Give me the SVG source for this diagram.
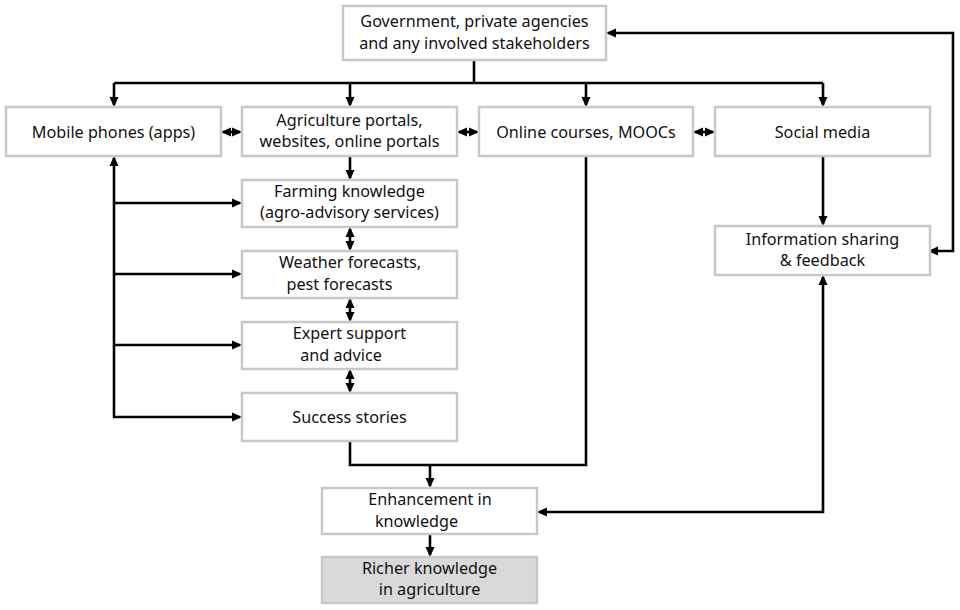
<svg xmlns="http://www.w3.org/2000/svg" width="960" height="610" viewBox="0 0 960 610">
<style>
.box{fill:#fff;stroke:#c8c8c8;stroke-width:2.5}
.grey{fill:#d9d9d9}
text{font-family:"Noto Sans","Open Sans","DejaVu Sans",sans-serif;font-size:16.2px;fill:#111;text-anchor:middle}
.c{fill:none;stroke:#000;stroke-width:2.6}
</style>
<defs>
<marker id="a" markerUnits="userSpaceOnUse" markerWidth="11" markerHeight="11" refX="8" refY="5.5" orient="auto-start-reverse"><path d="M0,1 L10,5.5 L0,10 Z" fill="#000"/></marker>
</defs>
<rect width="960" height="610" fill="#fff"/>
<g id="connectors">
<path class="c" d="M474,60 V83 M114,83 H823"/>
<path class="c" d="M114,83 V105" marker-end="url(#a)"/>
<path class="c" d="M350,83 V105" marker-end="url(#a)"/>
<path class="c" d="M586,83 V105" marker-end="url(#a)"/>
<path class="c" d="M823,83 V105" marker-end="url(#a)"/>
<path class="c" d="M930,251 H953 V33 H608" marker-start="url(#a)" marker-end="url(#a)"/>
<path class="c" d="M223,132 H240" marker-start="url(#a)" marker-end="url(#a)"/>
<path class="c" d="M459,132 H477" marker-start="url(#a)" marker-end="url(#a)"/>
<path class="c" d="M695,132 H713" marker-start="url(#a)" marker-end="url(#a)"/>
<path class="c" d="M350,157 V178" marker-end="url(#a)"/>
<path class="c" d="M350,229 V249" marker-start="url(#a)" marker-end="url(#a)"/>
<path class="c" d="M350,300 V320" marker-start="url(#a)" marker-end="url(#a)"/>
<path class="c" d="M350,371 V391" marker-start="url(#a)" marker-end="url(#a)"/>
<path class="c" d="M114,417 V158" marker-end="url(#a)"/>
<path class="c" d="M114,203 H240" marker-end="url(#a)"/>
<path class="c" d="M114,274 H240" marker-end="url(#a)"/>
<path class="c" d="M114,345 H240" marker-end="url(#a)"/>
<path class="c" d="M113,417 H240" marker-end="url(#a)"/>
<path class="c" d="M823,157 V224" marker-end="url(#a)"/>
<path class="c" d="M350,442 V465 H586 V157"/>
<path class="c" d="M430,465 V486" marker-end="url(#a)"/>
<path class="c" d="M430,535 V555" marker-end="url(#a)"/>
<path class="c" d="M823,277 V512 H539" marker-start="url(#a)" marker-end="url(#a)"/>
</g>
<g id="gov"><rect class="box" x="343" y="6" width="263" height="54"/><text x="474.5" y="27">Government, private agencies</text><text x="474.5" y="49">and any involved stakeholders</text></g>
<g id="mobile"><rect class="box" x="6" y="107" width="215" height="49"/><text x="113.5" y="137.5">Mobile phones (apps)</text></g>
<g id="portals"><rect class="box" x="242" y="107" width="215" height="49"/><text x="349.5" y="126">Agriculture portals,</text><text x="349.5" y="147">websites, online portals</text></g>
<g id="courses"><rect class="box" x="479" y="107" width="214" height="49"/><text x="586" y="137.5">Online courses, MOOCs</text></g>
<g id="social"><rect class="box" x="715" y="107" width="215" height="49"/><text x="822.5" y="137.5">Social media</text></g>
<g id="farming"><rect class="box" x="242" y="180" width="215" height="47"/><text x="349.5" y="197">Farming knowledge</text><text x="349.5" y="218">(agro-advisory services)</text></g>
<g id="weather"><rect class="box" x="242" y="251" width="215" height="47"/><text x="350" y="268">Weather forecasts,</text><text x="339.5" y="290">pest forecasts</text></g>
<g id="expert"><rect class="box" x="242" y="322" width="215" height="47"/><text x="349.5" y="339">Expert support</text><text x="341" y="361">and advice</text></g>
<g id="success"><rect class="box" x="242" y="393" width="215" height="48"/><text x="349.5" y="422.5">Success stories</text></g>
<g id="info"><rect class="box" x="715" y="226" width="215" height="49"/><text x="822.5" y="245">Information sharing</text><text x="822.5" y="266">&amp; feedback</text></g>
<g id="enhance"><rect class="box" x="322" y="488" width="215" height="46"/><text x="430" y="505">Enhancement in</text><text x="416.5" y="527">knowledge</text></g>
<g id="richer"><rect class="box grey" x="322" y="557" width="215" height="46"/><text x="429.5" y="574">Richer knowledge</text><text x="429.5" y="595">in agriculture</text></g>
</svg>
